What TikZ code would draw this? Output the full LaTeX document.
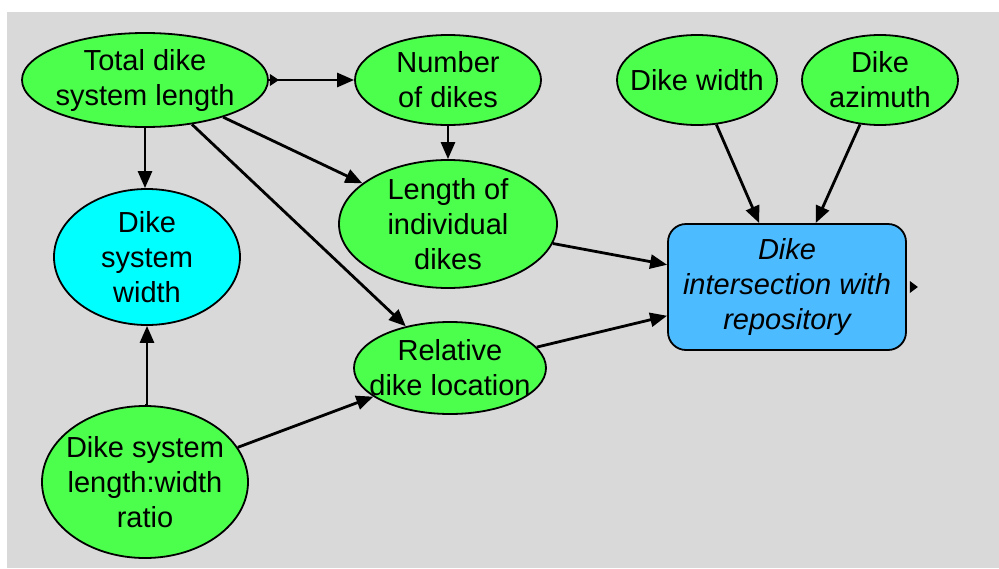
\documentclass[tikz,border=0pt]{standalone}
\usepackage{fontspec}
\setmainfont{Liberation Sans}
\usetikzlibrary{shapes.geometric,arrows.meta}
\definecolor{panelgray}{HTML}{D9D9D9}
\definecolor{nodegreen}{HTML}{4DFF4D}
\definecolor{nodecyan}{HTML}{00FFFF}
\definecolor{nodeblue}{HTML}{4DBBFF}
\begin{document}
\begin{tikzpicture}[x=1pt,y=-1pt,
  % negative inner sep lets the minimum size set the ellipse
  var/.style={ellipse, draw, line width=1.8pt, fill=nodegreen,
    inner xsep=-30pt, inner ysep=-20pt,
    align=center, font=\fontsize{29}{35}\selectfont},
  link/.style={line width=2.8pt, -{Triangle[length=17pt,width=14pt]}},
  outmark/.style={fill=black}]
\useasboundingbox (0,0) rectangle (999,568);
\fill[panelgray] (7,12) rectangle (999,568);

% chance variables
\node[var, minimum width=246, minimum height=94] (total) at (145,80) {Total dike\\system length};
\node[var, minimum width=186, minimum height=90] (number) at (448,80) {Number\\of dikes};
\node[var, minimum width=160, minimum height=90] (dwidth) at (697,80) {Dike width};
\node[var, minimum width=156, minimum height=90] (azimuth) at (880,80) {Dike\\azimuth};
\node[var, fill=nodecyan, minimum width=186, minimum height=136] (syswidth) at (147,257) {Dike\\system\\width};
\node[var, minimum width=218, minimum height=128] (length) at (448,224) {Length of\\individual\\dikes};
\node[var, minimum width=192, minimum height=92] (relative) at (450,368) {Relative\\dike location};
\node[var, minimum width=206, minimum height=152] (ratio) at (145,482) {Dike system\\length:width\\ratio};

% objective
\node[draw, line width=1.8pt, fill=nodeblue, rounded corners=18, inner sep=0pt,
  minimum width=238, minimum height=126, align=center,
  font=\fontsize{29}{35}\selectfont\itshape] (target) at (787,287)
  {Dike\\intersection with\\repository};

% influences
\draw[link] (total) -- (number);
\draw[link] (total.south) -- (total.south |- syswidth.north);
\draw[link] (total) -- (length);
\draw[link] (total) -- (relative);
\draw[link] (number) -- (length);
\draw[link] (length) -- (target);
\draw[link] (relative) -- (target);
\draw[link] (dwidth) -- (target);
\draw[link] (azimuth) -- (target);
\draw[link] (ratio.north) -- (ratio.north -| syswidth.south) -- (syswidth.south);
\draw[link] (ratio) -- (relative);

% output markers
\fill[outmark] (total.east) ++(1,-6) -- ++(9,6) -- ++(-9,6) -- cycle;
\fill[outmark] (target.east) ++(3,-6) -- ++(8,6) -- ++(-8,6) -- cycle;
\end{tikzpicture}
\end{document}
